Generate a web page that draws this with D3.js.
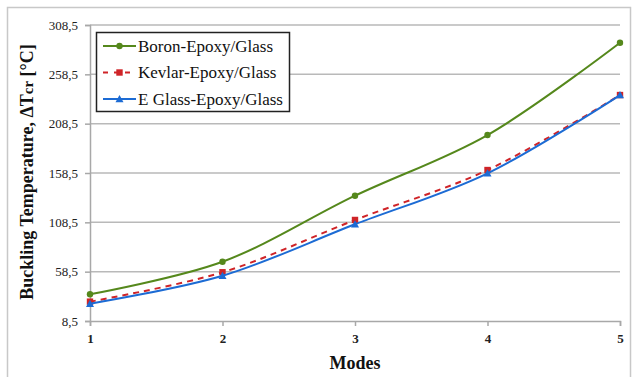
<!DOCTYPE html>
<html>
<head>
<meta charset="utf-8">
<script src="https://cdn.jsdelivr.net/npm/d3@7"></script>
<style>
  html, body { margin: 0; padding: 0; background: #fff; }
  svg { display: block; }
</style>
</head>
<body>
<svg id="chart" width="632" height="377"></svg>
<script>
// Buckling temperature per mode for three laminate types
const modes = [1, 2, 3, 4, 5];
const boron = [35.6, 68.6, 135.5, 197, 290.5];
const kevlar = [28.1, 57.9, 110.9, 161.5, 237.5];
const eglass = [26, 54.4, 106.5, 158.2, 237.5];
const yTicks = [8.5, 58.5, 108.5, 158.5, 208.5, 258.5, 308.5];
const seriesNames = ["Boron-Epoxy/Glass", "Kevlar-Epoxy/Glass", "E Glass-Epoxy/Glass"];

const series = [
  { name: seriesNames[0], values: boron, color: "#55881c", dash: null, marker: "circle" },
  { name: seriesNames[1], values: kevlar, color: "#cf2428", dash: "6,5", marker: "square" },
  { name: seriesNames[2], values: eglass, color: "#1c6bd4", dash: null, marker: "triangle" }
];

const svg = d3.select("#chart");
const serif = "\"Liberation Serif\"";

// outer frame
svg.append("rect")
  .attr("x", 7.5).attr("y", 7.5).attr("width", 623).attr("height", 380)
  .attr("fill", "#fff").attr("stroke", "#c8c8c8").attr("stroke-width", 1.5);

const x = d3.scaleLinear().domain([1, 5]).range([90, 620]);
const y = d3.scaleLinear().domain([8.5, 308.5]).range([321, 25]);

// horizontal gridlines
svg.append("g").selectAll("line").data(yTicks.slice(1)).join("line")
  .attr("x1", x(1)).attr("x2", x(5))
  .attr("y1", d => y(d)).attr("y2", d => y(d))
  .attr("stroke", "#b9b9b9").attr("stroke-width", 1.5);

// y axis
const yAxis = d3.axisLeft(y).tickValues(yTicks).tickSize(5).tickPadding(7)
  .tickFormat(d => d3.format(".1f")(d).replace(".", ","));
const gy = svg.append("g").attr("transform", `translate(${x(1)},0)`).call(yAxis)
  .attr("font-family", serif).attr("font-size", 13);
gy.select(".domain").attr("stroke", "#a8a8a8").attr("stroke-width", 1.5);
gy.selectAll(".tick line").attr("stroke", "#a8a8a8").attr("stroke-width", 1.5);
gy.selectAll(".tick text").attr("fill", "#222");

// x axis
const xAxis = d3.axisBottom(x).tickValues(modes).tickSize(5).tickPadding(8).tickFormat(d3.format("d"));
const gx = svg.append("g").attr("transform", `translate(0,${y(8.5)})`).call(xAxis)
  .attr("font-family", serif).attr("font-size", 13).attr("font-weight", "bold");
gx.select(".domain").attr("stroke", "#a8a8a8").attr("stroke-width", 1.5);
gx.selectAll(".tick line").attr("stroke", "#a8a8a8").attr("stroke-width", 1.5);
gx.selectAll(".tick text").attr("fill", "#222");

// axis titles
svg.append("text")
  .attr("x", 355).attr("y", 369)
  .attr("text-anchor", "middle")
  .style("font-family", serif).style("font-size", "18px").style("font-weight", "bold")
  .attr("fill", "#111")
  .text("Modes");

const yt = svg.append("text")
  .attr("transform", "translate(33,172) rotate(-90)")
  .attr("text-anchor", "middle")
  .style("font-family", serif).style("font-size", "18px").style("font-weight", "bold")
  .attr("fill", "#111");
yt.append("tspan").text("Buckling Temperature, ΔT");
yt.append("tspan").style("font-size", "15px").text("cr");
yt.append("tspan").text(" [°C]");

// smoothed series lines
const line = d3.line()
  .x((d, i) => x(modes[i]))
  .y(d => y(d))
  .curve(d3.curveCatmullRom.alpha(0.5));

function drawMarker(g, type, color, cx, cy) {
  if (type === "circle") {
    g.append("circle").attr("cx", cx).attr("cy", cy).attr("r", 3.2).attr("fill", color);
  } else if (type === "square") {
    g.append("rect").attr("x", cx - 3.2).attr("y", cy - 3.2).attr("width", 6.4).attr("height", 6.4).attr("fill", color);
  } else {
    const s = 4;
    g.append("path")
      .attr("d", `M${cx},${cy - s} L${cx + s},${cy + s * 0.8} L${cx - s},${cy + s * 0.8} Z`)
      .attr("fill", color);
  }
}

series.forEach(s => {
  svg.append("path")
    .datum(s.values)
    .attr("d", line)
    .attr("fill", "none")
    .attr("stroke", s.color)
    .attr("stroke-width", 2)
    .attr("stroke-dasharray", s.dash);
  const mg = svg.append("g");
  s.values.forEach((v, i) => drawMarker(mg, s.marker, s.color, x(modes[i]), y(v)));
});

// legend
const lg = svg.append("g");
lg.append("rect")
  .attr("x", 96.5).attr("y", 32.5).attr("width", 193).attr("height", 79)
  .attr("fill", "#fff").attr("stroke", "#222").attr("stroke-width", 1.5);
series.forEach((s, i) => {
  const cy = 46 + i * 26.5;
  lg.append("line")
    .attr("x1", 103).attr("x2", 136).attr("y1", cy).attr("y2", cy)
    .attr("stroke", s.color).attr("stroke-width", 2)
    .attr("stroke-dasharray", s.dash ? "5,6" : null);
  drawMarker(lg, s.marker, s.color, 119.5, cy);
  lg.append("text")
    .attr("x", 138).attr("y", cy + 5.5)
    .style("font-family", serif).style("font-size", "17px")
    .attr("fill", "#111")
    .text(s.name);
});
</script>
</body>
</html>
